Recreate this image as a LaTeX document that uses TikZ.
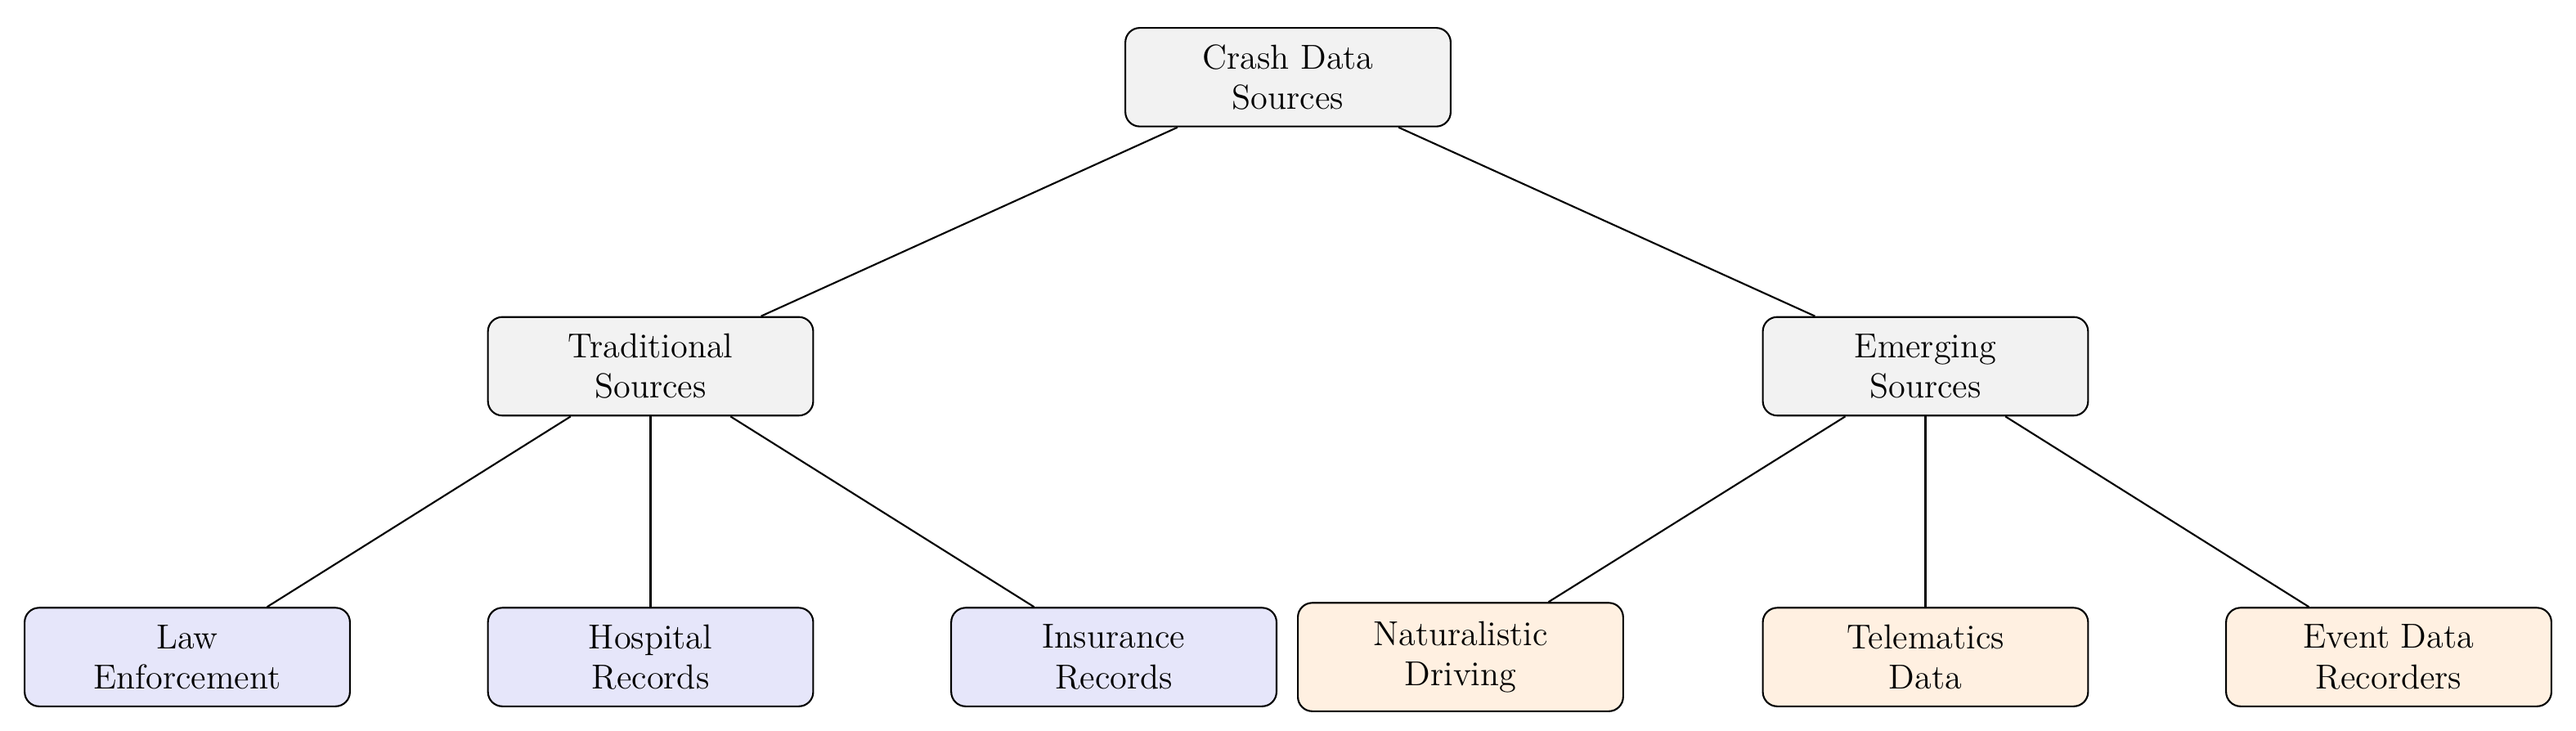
\documentclass[tikz,border=0pt]{standalone}
\begin{document}
\begin{tikzpicture}[
  box/.style={draw, rounded corners=5pt, minimum width=3.96cm, minimum height=1.2cm, align=center, font=\large, line width=0.6pt},
  gr/.style={box, fill=gray!10},
  bl/.style={box, fill={rgb,255:red,230;green,230;blue,250}},
  og/.style={box, fill={rgb,255:red,255;green,240;blue,225}},
  edge/.style={line width=0.6pt}]
\useasboundingbox (0,0) rectangle (31.36,8.9);
\node[gr] (root) at (15.68,7.96) {Crash Data\\Sources};
\node[gr] (trad) at (7.92,4.44) {Traditional\\Sources};
\node[gr] (emer) at (23.44,4.44) {Emerging\\Sources};
\node[bl] (law) at (2.28,0.9) {Law\\Enforcement};
\node[bl] (hosp) at (7.92,0.9) {Hospital\\Records};
\node[bl] (ins) at (13.56,0.9) {Insurance\\Records};
\node[og, minimum height=1.32cm] (nat) at (17.78,0.9) {Naturalistic\\Driving};
\node[og] (tel) at (23.44,0.9) {Telematics\\Data};
\node[og] (edr) at (29.08,0.9) {Event Data\\Recorders};
\draw[edge] (root) -- (trad);
\draw[edge] (root) -- (emer);
\draw[edge] (trad) -- (law);
\draw[edge] (trad) -- (hosp);
\draw[edge] (trad) -- (ins);
\draw[edge] (emer) -- (nat);
\draw[edge] (emer) -- (tel);
\draw[edge] (emer) -- (edr);
\end{tikzpicture}
\end{document}
